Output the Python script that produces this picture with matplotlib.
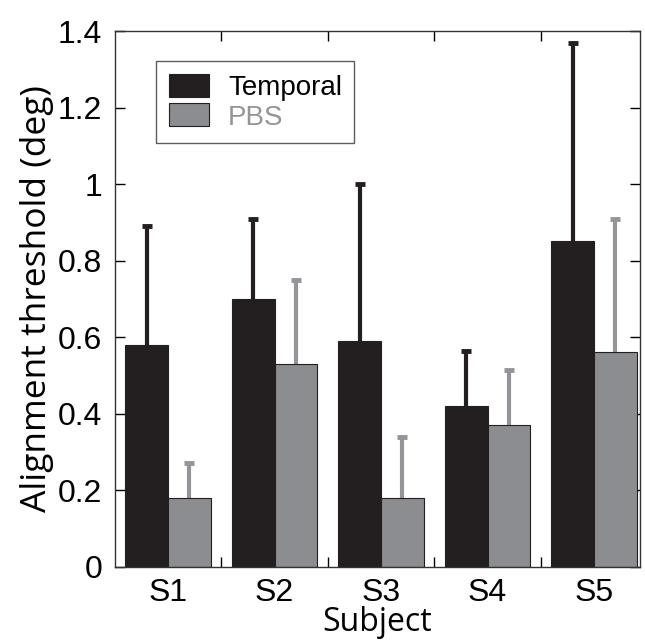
import matplotlib
matplotlib.use("Agg")
import matplotlib.pyplot as plt
from matplotlib.legend_handler import HandlerPatch
from matplotlib.patches import Rectangle
import numpy as np

subjects = ["S1", "S2", "S3", "S4", "S5"]
temporal = [0.58, 0.70, 0.59, 0.42, 0.85]
temporal_err = [0.31, 0.21, 0.41, 0.145, 0.52]
pbs = [0.18, 0.53, 0.18, 0.37, 0.56]
pbs_err = [0.09, 0.22, 0.16, 0.145, 0.35]

dark = "#231f20"
grey = "#8c8d90"
grey_err = "#949598"

plt.rcParams["font.family"] = ["Liberation Sans", "DejaVu Sans"]

fig = plt.figure(figsize=(6.45, 6.43), dpi=100)
ax = fig.add_axes([0.178, 0.1187, 0.814, 0.833])

x = np.arange(1, len(subjects) + 1)
w = 0.4
xt = x - w / 2
xp = x + w / 2
top_t = np.array(temporal) + np.array(temporal_err)
top_p = np.array(pbs) + np.array(pbs_err)

ax.bar(xt, temporal, w, color=dark, edgecolor=dark, linewidth=0.8,
       label="Temporal", zorder=2)
ax.bar(xp, pbs, w, color=grey, edgecolor=dark, linewidth=0.8,
       label="PBS", zorder=2)

# upper error bars only
ax.vlines(xt, temporal, top_t, color=dark, linewidth=3, zorder=1)
ax.plot(xt, top_t, ls="none", marker="_", ms=7.5, mew=3.5, color=dark, zorder=1)
ax.vlines(xp, pbs, top_p, color=grey_err, linewidth=3, zorder=1)
ax.plot(xp, top_p, ls="none", marker="_", ms=7.5, mew=3.5, color=grey_err,
        zorder=1)

ax.set_xlim(0.5, 5.43)
ax.set_ylim(0, 1.4)
ax.set_yticks([0, 0.2, 0.4, 0.6, 0.8, 1.0, 1.2, 1.4])
ax.set_yticklabels(["0", "0.2", "0.4", "0.6", "0.8", "1", "1.2", "1.4"])
ax.set_xticks(x)
ax.set_xticklabels(subjects)
ax.set_xticks(np.arange(1.5, 5.0, 1.0), minor=True)

ax.tick_params(axis="x", which="major", length=0, labelsize=23, pad=8)
ax.tick_params(axis="x", which="minor", direction="in", length=7, width=1,
               top=True, bottom=True)
ax.tick_params(axis="y", direction="in", length=7, width=1, right=True,
               labelsize=23, pad=9)

for s in ax.spines.values():
    s.set_linewidth(1.0)
    s.set_color("#333333")

ax.set_xlabel("Subject", family=["Open Sans", "DejaVu Sans"], fontsize=23,
              labelpad=-1)
ax.set_ylabel("Alignment threshold (deg)", family=["Open Sans", "DejaVu Sans"],
              fontsize=25.5, labelpad=3)


def square_handle(legend, orig_handle, xdescent, ydescent, width, height,
                  fontsize):
    return Rectangle((-xdescent + width - height, -ydescent), height, height)


leg = ax.legend(loc="upper left", bbox_to_anchor=(0.079, 0.944), fontsize=20,
                frameon=True, fancybox=False, edgecolor="#333333",
                handlelength=1.45, handleheight=0.9, handletextpad=0.68,
                borderpad=0.45, labelspacing=0.1, borderaxespad=0,
                handler_map={Rectangle: HandlerPatch(patch_func=square_handle)})
leg.get_frame().set_linewidth(1.0)
leg.get_texts()[1].set_color(grey_err)

fig.savefig("out.png", dpi=100)
